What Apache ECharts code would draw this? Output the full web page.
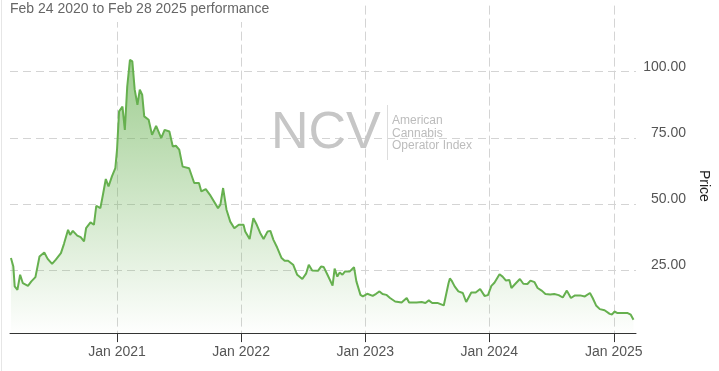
<!DOCTYPE html>
<html>
<head>
<meta charset="utf-8">
<style>
  html, body { margin: 0; padding: 0; background: #fff; }
  #chart { width: 719px; height: 371px; }
</style>
<script src="https://cdn.jsdelivr.net/npm/echarts@6/dist/echarts.min.js"></script>
</head>
<body>
<div id="chart"></div>
<script>
const titleText = 'Feb 24 2020 to Feb 28 2025 performance';
const yAxisName = 'Price';
const tickDates = ['2021-01-01', '2022-01-01', '2023-01-01', '2024-01-01', '2025-01-01'];
const tickLabels = ['Jan 2021', 'Jan 2022', 'Jan 2023', 'Jan 2024', 'Jan 2025'];
const yTicks = [25, 50, 75, 100];

const dates = [
  '2020-02-24','2020-03-02','2020-03-06','2020-03-14','2020-03-22','2020-03-30','2020-04-14','2020-04-24',
  '2020-05-06','2020-05-18','2020-06-01','2020-06-11','2020-06-24','2020-07-05','2020-07-20','2020-07-29',
  '2020-08-10','2020-08-16','2020-08-24','2020-09-06','2020-09-16','2020-09-26','2020-10-02','2020-10-15',
  '2020-10-25','2020-11-01','2020-11-13','2020-11-20','2020-11-29','2020-12-07','2020-12-17','2020-12-27',
  '2021-01-01','2021-01-07','2021-01-17','2021-01-24','2021-01-31','2021-02-08','2021-02-15','2021-02-22',
  '2021-03-02','2021-03-09','2021-03-16','2021-03-22','2021-04-04','2021-04-14','2021-04-26','2021-05-11',
  '2021-05-21','2021-06-04','2021-06-14','2021-06-23','2021-07-03','2021-07-13','2021-08-01','2021-08-16',
  '2021-08-30','2021-09-06','2021-09-19','2021-10-03','2021-10-25','2021-11-01','2021-11-09','2021-11-19',
  '2021-11-30','2021-12-12','2021-12-25','2022-01-08','2022-01-13','2022-01-26','2022-02-06','2022-02-16',
  '2022-02-26','2022-03-08','2022-03-20','2022-03-28','2022-04-06','2022-04-17','2022-04-30','2022-05-09',
  '2022-05-19','2022-06-03','2022-06-15','2022-06-30','2022-07-11','2022-07-19','2022-07-29','2022-08-15',
  '2022-08-24','2022-09-01','2022-09-12','2022-09-27','2022-10-03','2022-10-11','2022-10-18','2022-10-26',
  '2022-11-02','2022-11-16','2022-11-29','2022-12-06','2022-12-18','2022-12-25','2023-01-07','2023-01-23',
  '2023-02-02','2023-02-12','2023-02-21','2023-03-04','2023-03-15','2023-03-30','2023-04-18','2023-05-03',
  '2023-05-10','2023-06-01','2023-06-16','2023-06-27','2023-07-07','2023-07-17','2023-08-03','2023-08-20',
  '2023-09-03','2023-09-07','2023-09-12','2023-09-21','2023-10-02','2023-10-15','2023-10-25','2023-11-09',
  '2023-11-22','2023-12-05','2023-12-18','2023-12-28','2024-01-07','2024-01-16','2024-01-31','2024-02-09',
  '2024-02-19','2024-02-29','2024-03-06','2024-03-19','2024-03-31','2024-04-10','2024-04-22','2024-05-01',
  '2024-05-13','2024-05-22','2024-06-04','2024-06-14','2024-06-28','2024-07-10','2024-07-23','2024-08-04',
  '2024-08-16','2024-08-28','2024-09-09','2024-09-24','2024-10-08','2024-10-23','2024-10-31','2024-11-10',
  '2024-11-21','2024-12-05','2024-12-20','2024-12-27','2025-01-03','2025-01-12','2025-01-27','2025-02-11',
  '2025-02-20','2025-02-28'
];
const prices = [
  29.5, 26.3, 18.8, 17.5, 23.2, 20.0, 19.0, 20.7,
  22.3, 30.1, 31.6, 29.2, 27.3, 28.9, 31.4, 34.9,
  40.2, 38.3, 39.8, 38.0, 37.4, 35.8, 40.8, 43.0,
  42.1, 49.3, 48.4, 53.1, 59.4, 56.6, 60.4, 63.5,
  70.5, 85.0, 86.8, 78.0, 94.4, 104.5, 103.9, 93.2,
  87.5, 93.2, 91.3, 83.1, 81.8, 76.1, 79.5, 74.9,
  78.0, 77.4, 71.7, 72.0, 70.5, 64.1, 63.5, 57.9,
  57.9, 54.7, 55.6, 53.1, 48.4, 49.7, 56.0, 47.8,
  43.3, 40.8, 42.1, 42.1, 39.6, 36.7, 44.6, 42.1,
  39.0, 36.7, 39.6, 39.8, 36.4, 33.5, 29.5, 28.5,
  28.5, 27.0, 23.2, 21.6, 23.6, 27.0, 24.8, 24.7,
  26.3, 26.1, 23.2, 19.1, 25.5, 22.5, 24.1, 23.2,
  24.4, 24.4, 26.1, 20.7, 15.6, 15.0, 16.0, 15.2,
  16.0, 16.9, 15.9, 15.6, 14.4, 13.1, 12.7, 14.4,
  12.7, 12.7, 12.9, 12.5, 13.5, 12.5, 12.5, 11.6,
  20.0, 21.8, 21.0, 18.8, 16.9, 16.3, 12.9, 16.5,
  16.5, 17.8, 15.2, 15.5, 19.0, 20.2, 23.4, 22.5,
  21.0, 21.2, 18.2, 20.0, 21.6, 19.8, 19.7, 21.0,
  20.4, 18.2, 17.1, 15.9, 15.7, 15.9, 15.5, 14.6,
  17.2, 14.4, 15.4, 15.4, 15.0, 16.3, 14.4, 11.6,
  10.2, 9.8, 8.4, 8.2, 9.3, 8.7, 8.7, 8.7,
  8.1, 6.2
];

function toTime(s) {
  const p = s.split('-').map(Number);
  return Date.UTC(p[0], p[1] - 1, p[2]);
}
const tickTimes = tickDates.map(toTime);
const FONT = '"Liberation Sans", Arial, sans-serif';

const chart = echarts.init(document.getElementById('chart'), null, { renderer: 'canvas' });
chart.setOption({
  animation: false,
  backgroundColor: '#fff',
  title: {
    text: titleText,
    left: 8, top: 0,
    padding: [2, 3, 6, 2],
    backgroundColor: '#fff',
    textStyle: { fontFamily: FONT, fontSize: 14, fontWeight: 'normal', color: '#666' }
  },
  grid: { left: 10, right: 75.5, top: 5.6, bottom: 34.9, containLabel: false },
  xAxis: {
    type: 'value',
    min: Date.UTC(2020, 1, 21, 5),
    max: Date.UTC(2025, 2, 7, 10),
    offset: -3,
    axisLine: { onZero: false, lineStyle: { color: '#333', width: 1 } },
    axisTick: { show: true, length: 9, customValues: tickTimes, lineStyle: { color: '#333' } },
    axisLabel: {
      customValues: tickTimes,
      margin: 12,
      color: '#555',
      fontFamily: FONT,
      fontSize: 14,
      formatter: function (v) {
        const i = tickTimes.indexOf(v);
        return i >= 0 ? tickLabels[i] : '';
      }
    },
    splitLine: { show: true, lineStyle: { color: '#d4d4d4', type: [9, 4], width: 1 } }
  },
  yAxis: {
    type: 'value',
    position: 'right',
    min: 0, max: 125, interval: 25,
    name: yAxisName,
    nameLocation: 'middle',
    nameRotate: -90,
    nameGap: 61,
    nameTextStyle: { fontFamily: FONT, fontSize: 14, color: '#222', padding: [0, 0, 0, 30] },
    axisLine: { show: false },
    axisTick: { show: false },
    axisLabel: {
      customValues: yTicks,
      align: 'right',
      verticalAlign: 'bottom',
      lineHeight: 9,
      margin: 50,
      color: '#555',
      fontFamily: FONT,
      fontSize: 14,
      formatter: function (v) { return v.toFixed(2); }
    },
    splitLine: {
      show: true, showMinLine: false, showMaxLine: false,
      lineStyle: { color: '#d4d4d4', type: [8, 5], width: 1 }
    }
  },
  graphic: [
    { type: 'line', shape: { x1: 1.5, y1: 0, x2: 1.5, y2: 371 }, style: { stroke: '#e6e6e6', lineWidth: 1 }, z: 0 },
    { type: 'text', x: 271, y: 134, z: 1, style: { text: 'NCV', font: '52px ' + FONT, fill: '#c6c6c6', verticalAlign: 'middle', align: 'left' } },
    { type: 'line', shape: { x1: 387.5, y1: 105, x2: 387.5, y2: 160 }, style: { stroke: '#dddddd', lineWidth: 1 }, z: 1 },
    { type: 'text', x: 392, y: 120.5, z: 1, style: { text: 'American', font: '12px ' + FONT, fill: '#bcbcbc', verticalAlign: 'middle' } },
    { type: 'text', x: 392, y: 133.2, z: 1, style: { text: 'Cannabis', font: '12px ' + FONT, fill: '#bcbcbc', verticalAlign: 'middle' } },
    { type: 'text', x: 392, y: 145.9, z: 1, style: { text: 'Operator Index', font: '12px ' + FONT, fill: '#bcbcbc', verticalAlign: 'middle' } }
  ],
  series: [{
    type: 'line',
    data: dates.map(function (d, i) { return [toTime(d), prices[i]]; }),
    showSymbol: false,
    symbol: 'none',
    smooth: false,
    lineStyle: { color: '#66b04f', width: 2 },
    areaStyle: {
      color: new echarts.graphic.LinearGradient(0, 0, 0, 1, [
        { offset: 0, color: 'rgba(102,176,79,0.9)' },
        { offset: 1, color: 'rgba(102,176,79,0)' }
      ])
    },
    z: 3
  }]
});
</script>
</body>
</html>
